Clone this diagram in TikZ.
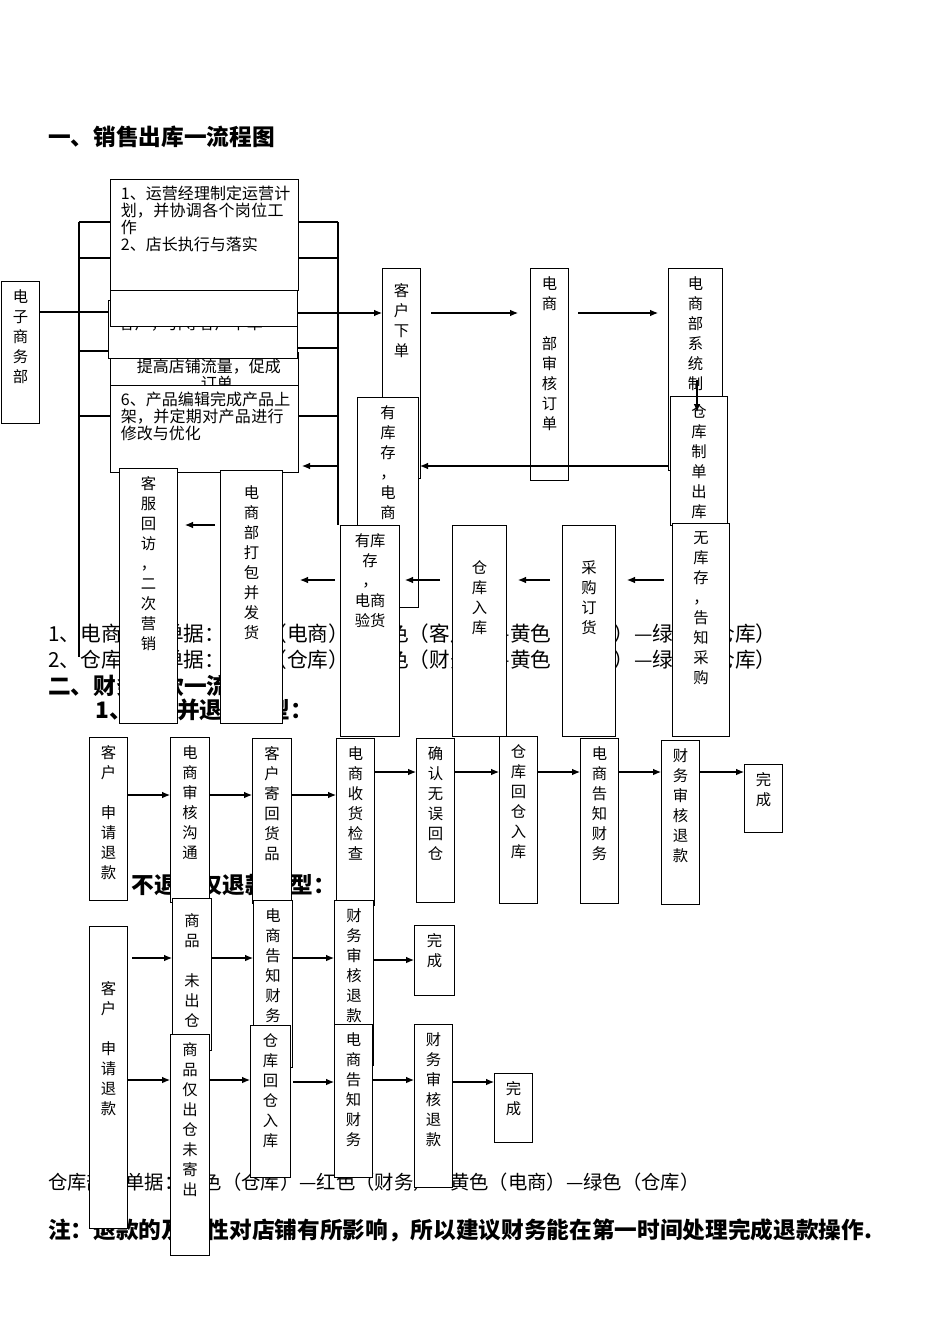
\documentclass[tikz,border=0pt]{standalone}
\usepackage{fontspec}
\setmainfont{Noto Sans CJK SC}
\XeTeXlinebreaklocale "zh"
\XeTeXlinebreakskip=0pt plus 1pt
\usetikzlibrary{arrows.meta}
\newcommand\vsz{\fontsize{11.5}{15}\selectfont}
\newcommand\bx[6]{\node[draw,fill=white,line width=0.9pt,anchor=north west,inner sep=0pt,minimum width={(#4-#2)*0.75pt},minimum height={(#5-#3)*0.75pt}] (#1) at (#2,#3) {};
\node[anchor=north,align=center,font=\vsz,inner sep=0pt] at ([yshift=-6pt]#1.north) {#6};}
\newcommand\hb[6]{\node[draw,fill=white,line width=0.9pt,anchor=north west,inner sep=0pt,minimum width={(#4-#2)*0.75pt},minimum height={(#5-#3)*0.75pt}] (#1) at (#2,#3) {};
\node[anchor=north west,align=left,text width=128pt,font=\fontsize{12}{12.8}\selectfont,inner sep=0pt] at ([xshift=8pt,yshift=-5pt]#1.north west) {#6};}
\begin{document}
\begin{tikzpicture}[x=0.75pt,y=-0.75pt,
  ln/.style={line width=0.8pt},
  arr/.style={line width=0.8pt,-{Latex[length=6pt,width=5pt]}},
  tl/.style={anchor=west,inner sep=0pt,font=\fontsize{15.5}{17}\selectfont},
  tb/.style={anchor=west,inner sep=0pt,font=\fontsize{17}{19}\selectfont\bfseries}]
\useasboundingbox[fill=white] (0,0) rectangle (950,1344);
\node[tb] (t1) at (48,137) {一、销售出库一流程图};
% bracket lines
\coordinate (L1) at (79,222); \coordinate (L2) at (79,657);
\coordinate (R1) at (338,222); \coordinate (R2) at (338,525);
\draw[ln] (L1) -- (L2);
\draw[ln] (R1) -- (R2);
\foreach \y in {222,258,351,416} \draw[ln] (79,\y) -- (110,\y);
\foreach \y in {222,258,348,416} \draw[ln] (298,\y) -- (338,\y);
% section 1 text lines (partly hidden)
\node[tl] (n1) at (48,634) {1、电商部门单据：白色（电商）—红色（客户）—黄色（财务）—绿色（仓库）};
\node[tl] (n2) at (48,660) {2、仓库部门单据：白色（仓库）—红色（财务）—黄色（电商）—绿色（仓库）};
\node[tb] (t2) at (48,686) {二、财务退款一流程图};
\node[tb] (t3) at (95,710) {1、退货并退款类型：};
\node[tb] (t4) at (95,885) {2、不退货仅退款类型：};
\node[tl,font=\fontsize{14.5}{16}\selectfont] (n3) at (48,1182) {仓库部门单据：白色（仓库）—红色（财务）—黄色（电商）—绿色（仓库）};
\node[tb,anchor=north west,text width=632pt,align=left,font=\fontsize{17}{19}\selectfont\bfseries] (n4) at (48,1218) {注：退款的及时性对店铺有所影响，所以建议财务能在第一时间处理完成退款操作.};
% left box
\bx{dz}{1}{281}{39}{423}{电\\子\\商\\务\\部}
\draw[ln] (dz.east |- 0,312) -- (110,312);
% stacked boxes
\hb{D}{110}{352}{298}{385}{\hspace*{12pt}提高店铺流量，促成\\\hspace*{60pt}订单}
\hb{C}{108}{300}{297}{358}{\\[4pt]客户，引导客户下单}
\hb{B}{110}{262}{297}{326}{}
\hb{A}{110}{179}{298}{290}{1、运营经理制定运营计划，并协调各个岗位工作\\2、店长执行与落实}
\hb{E}{110}{385}{298}{472}{6、产品编辑完成产品上架，并定期对产品进行修改与优化}
% right chain
\bx{kx}{382}{268}{420}{478}{\\客\\户\\下\\单}
\bx{sh}{530}{268}{568}{480}{电\\商\\\\部\\审\\核\\订\\单}
\bx{xt}{668}{268}{722}{470}{电\\商\\部\\系\\统\\制}
\draw[arr] (298,313) -- (kx.west |- 0,313);
\draw[arr] (kx.east |- 0,313) ++(10,0) -- (518,313);
\draw[arr] (578,313) -- (658,313);
\bx{yk1}{357}{397}{418}{607}{有\\库\\存\\，\\电\\商\\验\\货}
\bx{ck}{670}{396}{727}{525}{仓\\库\\制\\单\\出\\库}
\draw[arr] (697,380) -- (697,412);
\draw[arr] (668,466) -- (420,466);
\draw[arr] (338,466) -- (302,466);
% lower row
\bx{kf}{119}{468}{177}{723}{客\\服\\回\\访\\，\\二\\次\\营\\销}
\bx{db}{220}{470}{282}{723}{\\电\\商\\部\\打\\包\\并\\发\\货}
\bx{yk2}{340}{525}{399}{736}{有库\\存\\，\\电商\\验货}
\bx{rk}{452}{525}{506}{736}{\\\\仓\\库\\入\\库}
\bx{cg}{562}{525}{615}{736}{\\\\采\\购\\订\\货}
\bx{wk}{672}{523}{729}{736}{无\\库\\存\\，\\告\\知\\采\\购}
\draw[arr] (wk.west |- 0,580) ++(-8,0) -- (627,580);
\draw[arr] (550,580) -- (518,580);
\draw[arr] (440,580) -- (405,580);
\draw[arr] (335,580) -- (300,580);
\draw[arr] (215,525) -- (185,525);
% section 2 row 1
\bx{a1}{89}{737}{127}{900}{客\\户\\\\申\\请\\退\\款}
\bx{a2}{170}{737}{209}{902}{电\\商\\审\\核\\沟\\通}
\bx{a3}{252}{738}{291}{903}{客\\户\\寄\\回\\货\\品}
\bx{a4}{336}{738}{374}{905}{电\\商\\收\\货\\检\\查}
\bx{a5}{416}{738}{454}{902}{确\\认\\无\\误\\回\\仓}
\bx{a6}{499}{736}{537}{903}{仓\\库\\回\\仓\\入\\库}
\bx{a7}{580}{738}{618}{903}{电\\商\\告\\知\\财\\务}
\bx{a8}{661}{740}{699}{904}{财\\务\\审\\核\\退\\款}
\bx{a9}{744}{764}{782}{832}{完\\成}
\draw[arr] (a1.east |- 0,795) -- (a2.west |- 0,795);
\draw[arr] (a2.east |- 0,795) -- (a3.west |- 0,795);
\draw[arr] (a3.east |- 0,795) -- (a4.west |- 0,795);
\draw[arr] (a4.east |- 0,772) -- (a5.west |- 0,772);
\draw[arr] (a5.east |- 0,772) -- (a6.west |- 0,772);
\draw[arr] (a6.east |- 0,772) -- (a7.west |- 0,772);
\draw[arr] (a7.east |- 0,772) -- (a8.west |- 0,772);
\draw[arr] (a8.east |- 0,772) -- (a9.west |- 0,772);
% row 2
\bx{b1}{89}{926}{127}{1228}{\\\\\\客\\户\\\\申\\请\\退\\款}
\bx{b2}{172}{898}{211}{1050}{\\商\\品\\\\未\\出\\仓}
\bx{b3}{253}{900}{292}{1067}{电\\商\\告\\知\\财\\务}
\bx{b4}{334}{900}{373}{1065}{财\\务\\审\\核\\退\\款}
\bx{b5}{414}{925}{454}{995}{完\\成}
\draw[arr] (b1.east |- 0,958) ++(4,0) -- (b2.west |- 0,958);
\draw[arr] (b2.east |- 0,958) -- (b3.west |- 0,958);
\draw[arr] (b3.east |- 0,958) -- (b4.west |- 0,958);
\draw[arr] (b4.east |- 0,960) -- (b5.west |- 0,960);
% row 3
\bx{c1}{170}{1034}{209}{1255}{商\\品\\仅\\出\\仓\\未\\寄\\出}
\bx{c2}{250}{1025}{290}{1177}{仓\\库\\回\\仓\\入\\库}
\bx{c3}{334}{1024}{372}{1177}{电\\商\\告\\知\\财\\务}
\bx{c4}{414}{1024}{452}{1187}{财\\务\\审\\核\\退\\款}
\bx{c5}{494}{1073}{532}{1142}{完\\成}
\draw[arr] (b1.east |- 0,1080) -- (c1.west |- 0,1080);
\draw[arr] (c1.east |- 0,1080) -- (c2.west |- 0,1080);
\draw[arr] (c2.east |- 0,1082) ++(2,0) -- (c3.west |- 0,1082);
\draw[arr] (c3.east |- 0,1080) -- (c4.west |- 0,1080);
\draw[arr] (c4.east |- 0,1082) -- (c5.west |- 0,1082);
\end{tikzpicture}
\end{document}
